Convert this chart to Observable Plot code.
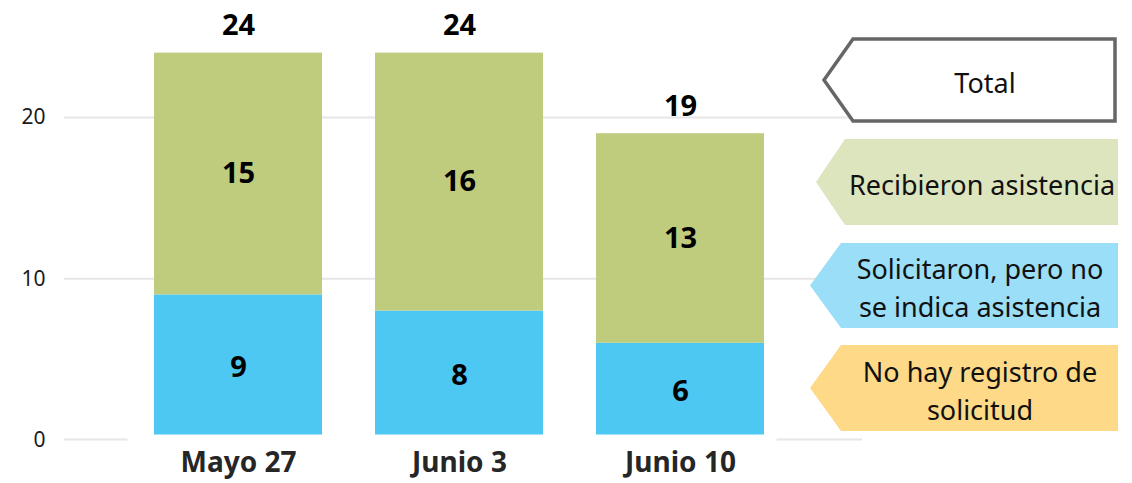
<!DOCTYPE html>
<html><head><meta charset="utf-8">
<script src="https://cdn.jsdelivr.net/npm/d3@7"></script>
<script src="https://cdn.jsdelivr.net/npm/@observablehq/plot@0.6"></script>
<style>
body{margin:0;background:#fff;font-family:"Noto Sans",sans-serif}
#wrap{position:relative;width:1132px;height:483px}
#wrap svg{position:absolute;left:0;top:0}
</style></head><body><div id="wrap"></div>
<script>
// ---- data ----
const fechas = ["Mayo 27", "Junio 3", "Junio 10"];
const solicitaron = [9, 8, 6];
const recibieron = [15, 16, 13];
const totales = [24, 24, 19];
const series = ["Solicitaron, pero no se indica asistencia", "Recibieron asistencia"];
const yTicks = [0, 10, 20];
const leyendaTextos = [["Total"], ["Recibieron asistencia"], ["Solicitaron, pero no", "se indica asistencia"], ["No hay registro de", "solicitud"]];
const leyendaColores = ["#ffffff", "#dde5bf", "#9bdef7", "#fed987"];
const barColores = ["#4dc8f3", "#bfcc7e"];

const rowsBase = fechas.map((f, i) => ({fecha: f, serie: series[0], y1: 0, y2: solicitaron[i], valor: solicitaron[i]}));
const rowsTop = fechas.map((f, i) => ({fecha: f, serie: series[1], y1: solicitaron[i], y2: solicitaron[i] + recibieron[i], valor: recibieron[i]}));
const rows = rowsBase.concat(rowsTop);
const tot = fechas.map((f, i) => ({fecha: f, total: totales[i]}));

const W = 1132, H = 483;
const zeroLine = (index, {x, y}, values, dims) => {
  const g = d3.create("svg:g");
  const [r0, r1] = x.range();
  const y0 = y(0);
  g.append("line").attr("x1", dims.marginLeft).attr("x2", r0).attr("y1", y0).attr("y2", y0)
    .attr("stroke", "#e6e6e6").attr("stroke-width", 2);
  g.append("line").attr("x1", r1 - 14).attr("x2", dims.width - dims.marginRight).attr("y1", y0).attr("y2", y0)
    .attr("stroke", "#e6e6e6").attr("stroke-width", 2);
  return g.node();
};

const chart = Plot.plot({
  width: W, height: H,
  marginLeft: 64, marginRight: 270, marginTop: 36.5, marginBottom: 43.5,
  style: {fontFamily: "'Noto Sans', sans-serif", background: "transparent"},
  x: {domain: fechas, range: [127.5, 790.5], paddingInner: 0.24, paddingOuter: 0.12, label: null},
  y: {domain: [0, 25], label: null},
  color: {domain: series, range: barColores},
  marks: [
    Plot.ruleY(yTicks.filter(t => t !== 0), {stroke: "#e6e6e6", strokeWidth: 2}),
    zeroLine,
    Plot.axisY({ticks: yTicks, tickSize: 0, tickPadding: 19, fontSize: 21, fill: "#1a1a1a", label: null}),
    Plot.axisX({tickSize: 0, tickPadding: 12, fontSize: 28, fontWeight: "bold", fill: "#262626", label: null}),
    Plot.barY(rowsBase, {x: "fecha", y1: "y1", y2: "y2", fill: "serie", insetBottom: 5}),
    Plot.barY(rowsTop, {x: "fecha", y1: "y1", y2: "y2", fill: "serie"}),
    Plot.text(rows, {x: "fecha", y: d => (d.y1 + d.y2) / 2, text: d => String(d.valor), fontSize: 29, fontWeight: "bold", fill: "#000"}),
    Plot.text(tot, {x: "fecha", y: "total", text: d => String(d.total), dy: -27, fontSize: 29, fontWeight: "bold", fill: "#000"})
  ]
});
document.getElementById("wrap").appendChild(chart);

// ---- legend (arrow-shaped labels) ----
const legGeom = [
  {tip: 824, flat: 853, right: 1115, top: 39, bottom: 121, cx: 985},
  {tip: 816, flat: 845, right: 1118, top: 139, bottom: 225, cx: 982},
  {tip: 810, flat: 841, right: 1118, top: 243, bottom: 328, cx: 980},
  {tip: 810, flat: 841, right: 1118, top: 345, bottom: 431, cx: 980}
];
const leg = d3.select("#wrap").append("svg").attr("width", W).attr("height", H);
legGeom.forEach((g, i) => {
  const mid = (g.top + g.bottom) / 2;
  leg.append("polygon")
    .attr("points", [[g.tip, mid], [g.flat, g.top], [g.right, g.top], [g.right, g.bottom], [g.flat, g.bottom]].map(p => p.join(",")).join(" "))
    .attr("fill", leyendaColores[i])
    .attr("stroke", i === 0 ? "#666" : "none")
    .attr("stroke-width", i === 0 ? 3.5 : 0);
  const lines = leyendaTextos[i];
  const lh = 38;
  lines.forEach((t, j) => {
    leg.append("text")
      .attr("x", g.cx)
      .attr("y", mid + (j - (lines.length - 1) / 2) * lh + 2)
      .attr("text-anchor", "middle")
      .attr("dominant-baseline", "central")
      .attr("font-family", "'Noto Sans', sans-serif")
      .attr("font-size", 27)
      .attr("fill", "#111")
      .text(t);
  });
});
</script></body></html>
